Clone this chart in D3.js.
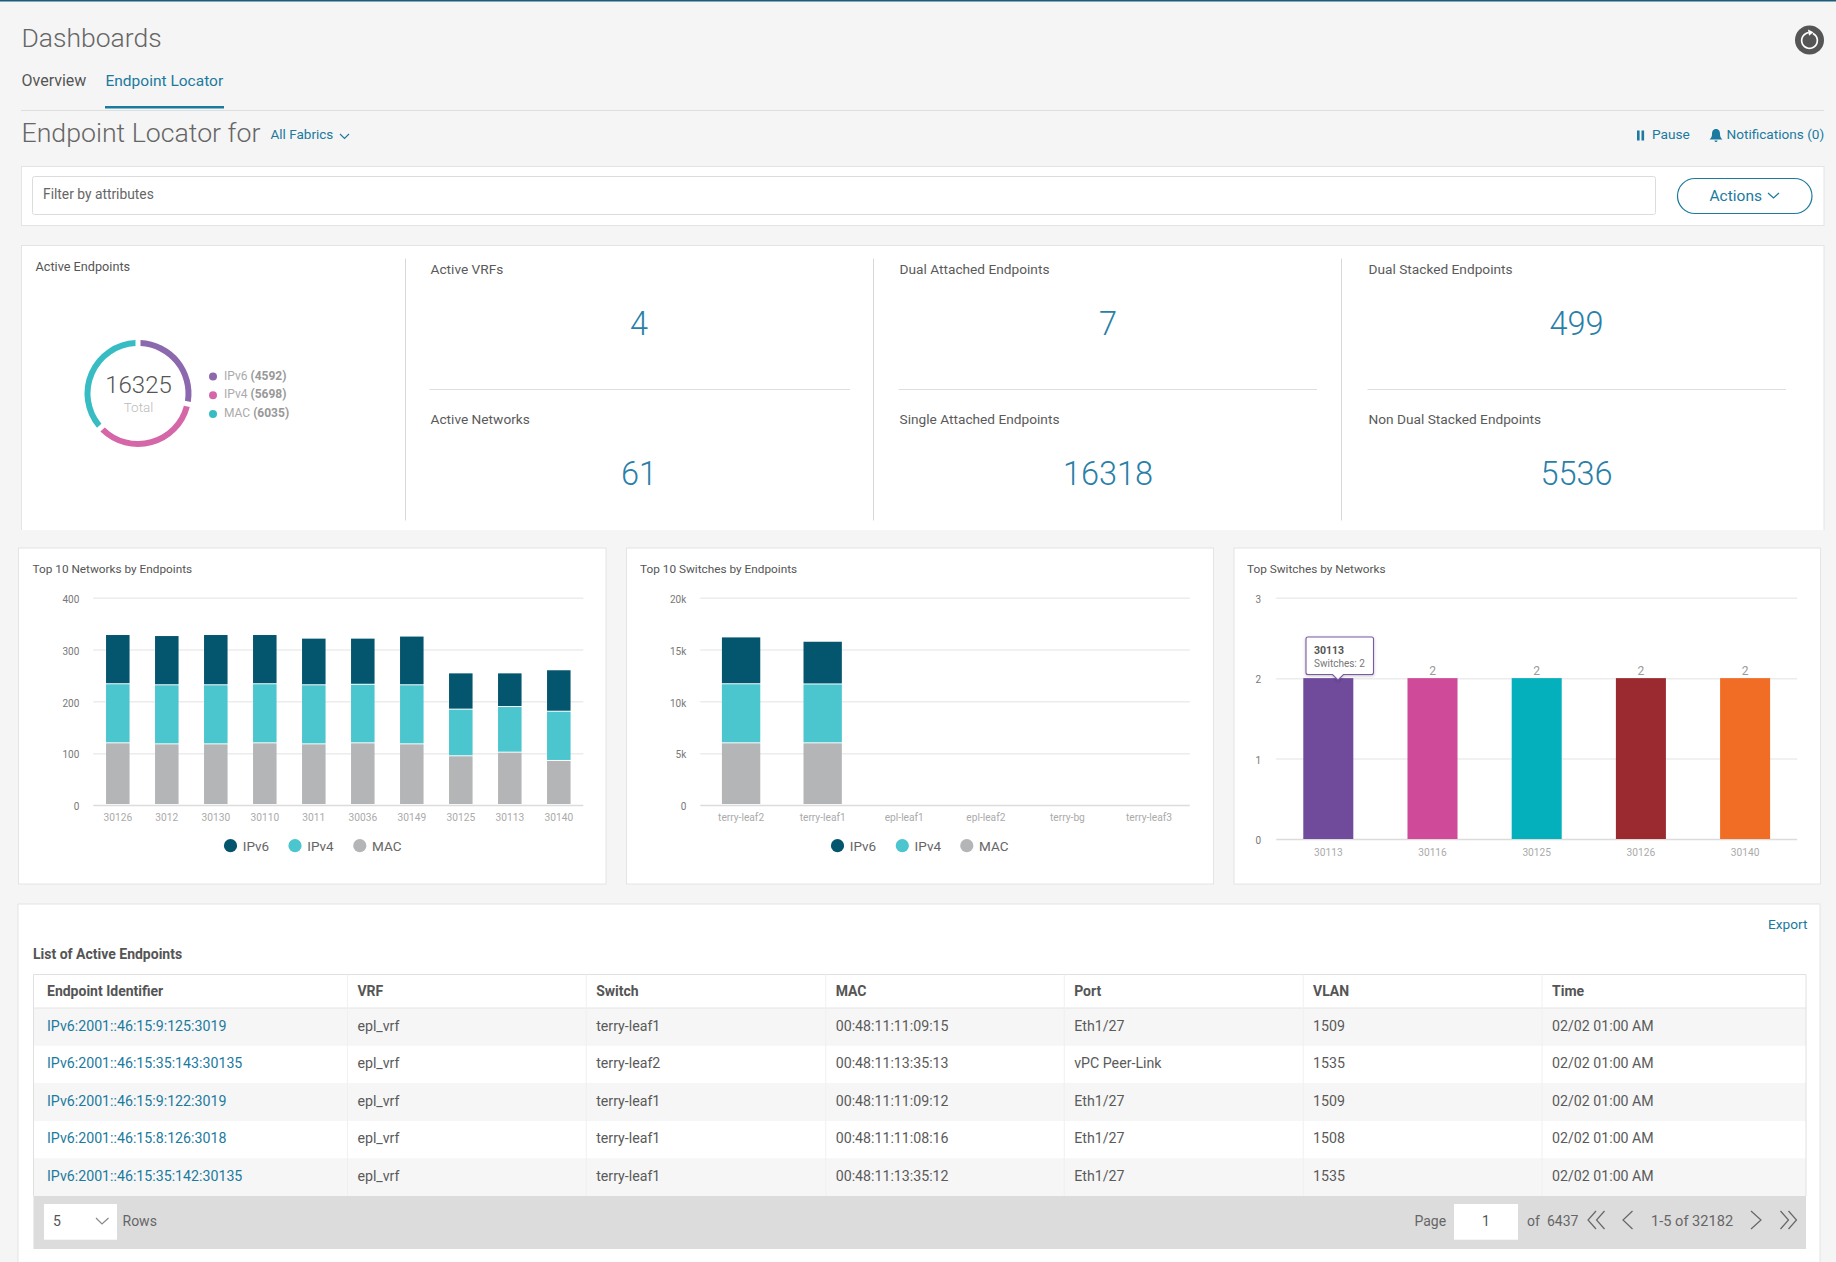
<!DOCTYPE html>
<html>
<head>
<meta charset="utf-8">
<title>Endpoint Locator</title>
<script src="https://cdn.jsdelivr.net/npm/d3@7"></script>
<style>
html, body { margin: 0; padding: 0; background: #f5f5f5; overflow: hidden; }
svg { display: block; font-family: Roboto, "Liberation Sans", sans-serif; }
.axis .domain { display: none; }
</style>
</head>
<body>
<svg id="page" width="1836" height="1262"></svg>
<script>
// donut
var donutLabels = ['IPv6', 'IPv4', 'MAC'];
var donutValues = [4592, 5698, 6035];
var donutColors = ['#8c69ae', '#d567a9', '#37bcc4'];

// stat tiles
var statLabels = ['Active VRFs', 'Active Networks', 'Dual Attached Endpoints', 'Single Attached Endpoints', 'Dual Stacked Endpoints', 'Non Dual Stacked Endpoints'];
var statValues = ['4', '61', '7', '16318', '499', '5536'];

// stacked bars
var stackKeys = ['MAC', 'IPv4', 'IPv6'];
var stackColors = { IPv6: '#04566e', IPv4: '#4bc5ce', MAC: '#b3b5b7' };

var networkNames = ['30126', '3012', '30130', '30110', '3011', '30036', '30149', '30125', '30113', '30140'];
var networkMac = [119, 117, 117, 119, 117, 119, 117, 94, 101, 85];
var networkIpv4 = [114, 114, 114, 114, 114, 113, 114, 90, 88, 95];
var networkIpv6 = [95, 95, 97, 95, 90, 89, 94, 70, 65, 80];
var networkTicks = [0, 100, 200, 300, 400];

var switchNames = ['terry-leaf2', 'terry-leaf1', 'epl-leaf1', 'epl-leaf2', 'terry-bg', 'terry-leaf3'];
var switchMac = [5950, 5950, 0, 0, 0, 0];
var switchIpv4 = [5700, 5680, 0, 0, 0, 0];
var switchIpv6 = [4520, 4120, 0, 0, 0, 0];
var switchTicks = [0, 5000, 10000, 15000, 20000];

// top switches by networks
var topNames = ['30113', '30116', '30125', '30126', '30140'];
var topValues = [2, 2, 2, 2, 2];
var topColors = ['#704b9c', '#d04a9a', '#03b0bb', '#9a2a30', '#f16c24'];
var topTicks = [0, 1, 2, 3];

// table
var tableHeaders = ['Endpoint Identifier', 'VRF', 'Switch', 'MAC', 'Port', 'VLAN', 'Time'];
var tableRows = [
	['IPv6:2001::46:15:9:125:3019', 'epl_vrf', 'terry-leaf1', '00:48:11:11:09:15', 'Eth1/27', '1509', '02/02 01:00 AM'],
	['IPv6:2001::46:15:35:143:30135', 'epl_vrf', 'terry-leaf2', '00:48:11:13:35:13', 'vPC Peer-Link', '1535', '02/02 01:00 AM'],
	['IPv6:2001::46:15:9:122:3019', 'epl_vrf', 'terry-leaf1', '00:48:11:11:09:12', 'Eth1/27', '1509', '02/02 01:00 AM'],
	['IPv6:2001::46:15:8:126:3018', 'epl_vrf', 'terry-leaf1', '00:48:11:11:08:16', 'Eth1/27', '1508', '02/02 01:00 AM'],
	['IPv6:2001::46:15:35:142:30135', 'epl_vrf', 'terry-leaf1', '00:48:11:13:35:12', 'Eth1/27', '1535', '02/02 01:00 AM']
];

var blue = '#1b7a9e';
var svg = d3.select('#page');

function label(x, y, str, size, color, weight, anchor){
	return svg.append('text')
	.attr('x', x).attr('y', y)
	.attr('font-size', size)
	.attr('fill', color)
	.attr('font-weight', weight || 400)
	.attr('text-anchor', anchor || 'start')
	.text(str);
}

function box(x, y, w, h, fill, stroke){
	return svg.append('rect')
	.attr('x', x).attr('y', y)
	.attr('width', w).attr('height', h)
	.attr('fill', fill)
	.attr('stroke', stroke || 'none');
}

function rule(x1, y1, x2, y2, color, width){
	return svg.append('line')
	.attr('x1', x1).attr('y1', y1)
	.attr('x2', x2).attr('y2', y2)
	.attr('stroke', color)
	.attr('stroke-width', width || 1);
}

function chevron(points, color, width){
	return svg.append('path')
	.attr('d', d3.line()(points))
	.attr('fill', 'none')
	.attr('stroke', color)
	.attr('stroke-width', width || 1.2);
}

function drawHeader(){
	box(0, 0, 1836, 1.5, '#1c5c78');
	label(21.5, 47, 'Dashboards', 26.5, '#666', 300);
	label(21.5, 86, 'Overview', 16, '#555');
	label(105.5, 86, 'Endpoint Locator', 15.5, blue);
	box(105, 106, 119, 2.5, blue);
	rule(21, 110.5, 1824, 110.5, '#dedede');
	label(21.5, 141.5, 'Endpoint Locator for', 26.7, '#666', 300);
	label(270.5, 139, 'All Fabrics', 13.5, blue);
	chevron([[340, 134], [344.5, 138.5], [349, 134]], blue);

	// pause and notifications
	box(1637, 130.5, 2.6, 10, blue);
	box(1641.5, 130.5, 2.6, 10, blue);
	label(1652, 139, 'Pause', 13.7, blue);
	svg.append('path')
	.attr('d', 'M1716 129c-3 0-4 2.500-4 5c0 3-1 4-2.500 5.500h13c-1.500-1.500-2.500-2.500-2.500-5.500c0-2.500-1-5-4-5zM1714.500 140.500a1.500 1.500 0 0 0 3 0z')
	.attr('fill', blue);
	label(1726.5, 139, 'Notifications (0)', 13.6, blue);

	// refresh
	svg.append('circle').attr('cx', 1809.5).attr('cy', 40).attr('r', 14.5).attr('fill', '#555');
	svg.append('path')
	.attr('transform', 'translate(1809.5,40.500)')
	.attr('d', d3.arc().innerRadius(7).outerRadius(8.7).startAngle(0.45).endAngle(Math.PI * 2 - 0.1)())
	.attr('fill', '#fff');
	svg.append('path').attr('d', 'M1808 29.500l5.500 2.800l-4.500 3.500z').attr('fill', '#fff');

	// filter bar
	box(21.5, 166.5, 1802.5, 59, '#fff', '#e4e4e4');
	box(32.5, 176.5, 1623, 38, '#fff', '#dcdcdc').attr('rx', 2);
	label(43, 198.5, 'Filter by attributes', 13.8, '#666');
	box(1677.5, 178.5, 134.5, 35, '#fff', blue).attr('rx', 17.5).attr('stroke-width', 1.2);
	label(1709.5, 200.5, 'Actions', 15.5, blue);
	chevron([[1768, 193], [1773.5, 198], [1779, 193]], blue);
}

function drawStats(){
	box(21.5, 245.5, 1802.5, 285, '#fff', '#e4e4e4');
	box(0, 530, 1836, 6, '#f5f5f5');
	label(35.5, 271, 'Active Endpoints', 12.7, '#555');

	// donut
	var g = svg.append('g').attr('transform', 'translate(138,393.500)');
	var pie = d3.pie().sort(null).padAngle(0.07);
	var arc = d3.arc().innerRadius(47.5).outerRadius(53.5);
	g.selectAll('path')
	.data(pie(donutValues))
	.enter().append('path')
	.attr('d', arc)
	.attr('fill', function(d, i){ return donutColors[i]; });

	label(138.5, 392.5, d3.sum(donutValues), 24, '#555', 300, 'middle');
	label(138.5, 412, 'Total', 13.5, '#bbb', 300, 'middle');

	donutLabels.forEach(function(name, i){
		svg.append('circle')
		.attr('cx', 213).attr('cy', 376.5 + i * 18.8)
		.attr('r', 4)
		.attr('fill', donutColors[i]);
		var t = label(224, 379.5 + i * 18.8, name + ' ', 12, '#aaa');
		t.append('tspan').attr('font-weight', 700).attr('fill', '#999').text('(' + donutValues[i] + ')');
	});

	// tiles, three columns of two
	var colX = [430.5, 899.5, 1368.5];
	var colCenter = [639, 1108, 1576.5];
	var dividerX = [405.5, 873.5, 1341.5];
	var ruleEnd = [850, 1317, 1786];
	colX.forEach(function(x, c){
		rule(dividerX[c], 258.5, dividerX[c], 520.5, '#d9d9d9');
		rule(x - 1, 389.5, ruleEnd[c], 389.5, '#dedede');
		label(x, 273.5, statLabels[c * 2], 13.7, '#5a5a5a');
		label(colCenter[c], 334.5, statValues[c * 2], 32.5, '#2a7fa8', 300, 'middle');
		label(x, 423.5, statLabels[c * 2 + 1], 13.7, '#5a5a5a');
		label(colCenter[c], 484.5, statValues[c * 2 + 1], 32.5, '#2a7fa8', 300, 'middle');
	});
}

function drawFrame(px, pw, title, tx){
	box(px, 548, pw, 336, '#fff', '#e4e4e4');
	label(tx, 573, title, 11.8, '#555');
}

function yAxes(y, x0, x1, ticks, fmt, labelGap){
	// grid first, then the labels
	var grid = svg.append('g')
	.attr('class', 'axis')
	.attr('transform', 'translate(' + x0 + ',0)')
	.call(d3.axisLeft(y).tickValues(ticks).tickSize(x0 - x1).tickFormat(''));
	grid.selectAll('line').attr('stroke', '#ececec').attr('stroke-width', 1.5);
	grid.selectAll('.tick').filter(function(d){ return d === 0; }).select('line').attr('stroke', '#dcdcdc');

	var lab = svg.append('g')
	.attr('class', 'axis')
	.attr('transform', 'translate(' + (x0 - labelGap) + ',1.500)')
	.call(d3.axisLeft(y).tickValues(ticks).tickSize(0).tickPadding(0).tickFormat(fmt));
	lab.selectAll('text').attr('font-size', 10).attr('font-family', 'Roboto').attr('fill', '#777');
}

function xAxis(x, yPos, pad){
	var g = svg.append('g')
	.attr('class', 'axis')
	.attr('transform', 'translate(0,' + yPos + ')')
	.call(d3.axisBottom(x).tickSize(0).tickPadding(pad));
	g.selectAll('text').attr('font-size', 10.2).attr('font-family', 'Roboto').attr('fill', '#aaa');
}

function legend(xs){
	['IPv6', 'IPv4', 'MAC'].forEach(function(name, i){
		svg.append('circle')
		.attr('cx', xs[i]).attr('cy', 845.7)
		.attr('r', 6.6)
		.attr('fill', stackColors[name]);
		label(xs[i] + 12.3, 850.7, name, 13.5, '#666');
	});
}

function stackedChart(names, mac, ipv4, ipv6, ticks, maxY, x0, x1, fmt, legendXs, inner){
	var rows = names.map(function(name, i){
		return { name: name, MAC: mac[i], IPv4: ipv4[i], IPv6: ipv6[i] };
	});
	var y = d3.scaleLinear().domain([0, maxY]).range([805, 597.7]);
	var x = d3.scaleBand().domain(names).range([x0, x1]).paddingInner(inner).paddingOuter(inner / 2);

	yAxes(y, x0, x1, ticks, fmt, 14);
	xAxis(x, 805, 9);

	var layers = d3.stack().keys(stackKeys)(rows);
	svg.selectAll(null)
	.data(layers)
	.enter().append('g')
	.attr('fill', function(d){ return stackColors[d.key]; })
	.selectAll('rect')
	.data(function(d){ return d.filter(function(s){ return s[1] > s[0]; }); })
	.enter().append('rect')
	.attr('x', function(d){ return x(d.data.name); })
	.attr('width', x.bandwidth())
	.attr('y', function(d){ return y(d[1]); })
	.attr('height', function(d){ return y(d[0]) - y(d[1]) - 1; });

	legend(legendXs);
}

function drawCharts(){
	drawFrame(18.5, 587.5, 'Top 10 Networks by Endpoints', 32.5);
	stackedChart(networkNames, networkMac, networkIpv4, networkIpv6, networkTicks, 400, 93.3, 583.3,
		function(d){ return d; }, [230.5, 295, 359.8], 0.52);

	drawFrame(626.5, 587, 'Top 10 Switches by Endpoints', 640);
	stackedChart(switchNames, switchMac, switchIpv4, switchIpv6, switchTicks, 20000, 700.3, 1189.8,
		function(d){ return d === 0 ? '0' : (d / 1000) + 'k'; }, [837.5, 902.3, 966.8], 0.53);

	drawFrame(1234, 586.5, 'Top Switches by Networks', 1247);
	var y = d3.scaleLinear().domain([0, 3]).range([839, 597.7]);
	var x = d3.scaleBand().domain(topNames).range([1276.2, 1797.2]).paddingInner(0.52).paddingOuter(0.26);
	yAxes(y, 1276.2, 1797.2, topTicks, function(d){ return d; }, 15);
	xAxis(x, 839, 10);

	svg.selectAll(null)
	.data(topNames)
	.enter().append('rect')
	.attr('x', function(d){ return x(d); })
	.attr('width', x.bandwidth())
	.attr('y', function(d, i){ return y(topValues[i]); })
	.attr('height', function(d, i){ return y(0) - y(topValues[i]); })
	.attr('fill', function(d, i){ return topColors[i]; });

	topNames.forEach(function(name, i){
		if(i > 0)
			label(x(name) + x.bandwidth() / 2, y(topValues[i]) - 3.5, topValues[i], 12, '#999', 400, 'middle');
	});

	// tooltip stays over the first bar
	svg.append('defs').append('filter').attr('id', 'tipShadow')
	.append('feDropShadow')
	.attr('dx', 0).attr('dy', 1).attr('stdDeviation', 1.5)
	.attr('flood-color', '#000').attr('flood-opacity', 0.25);
	svg.append('path')
	.attr('d', 'M1306 639a2 2 0 0 1 2-2h63.500a2 2 0 0 1 2 2v33.500a2 2 0 0 1-2 2h-28l-5.500 5.500l-5.500-5.500h-24.500a2 2 0 0 1-2-2z')
	.attr('fill', '#fff')
	.attr('stroke', '#7a5aa6')
	.attr('stroke-width', 1.1)
	.attr('filter', 'url(#tipShadow)');
	label(1314, 654, topNames[0], 10.5, '#555', 700);
	label(1314, 666.5, 'Switches: ' + topValues[0], 10, '#777');
}

function drawTable(){
	box(18, 904, 1802, 370, '#fff', '#e4e4e4');
	label(33, 958.5, 'List of Active Endpoints', 14, '#555', 700);
	label(1768, 929, 'Export', 13.7, blue);

	var colX = [33.5, 347.4, 586.3, 825.7, 1064.3, 1303.2, 1542, 1806];
	var tx = [47, 357.4, 596.2, 835.7, 1074.2, 1313, 1552];
	var rowTop = [1008, 1045.7, 1083, 1121, 1158.3, 1196];
	var baselines = [1030.5, 1067.5, 1105.5, 1142.5, 1180.5];

	tableRows.forEach(function(row, r){
		if(r % 2 === 0)
			box(33.5, rowTop[r], 1772.5, rowTop[r + 1] - rowTop[r], '#f6f6f6');
		row.forEach(function(cell, c){
			label(tx[c], baselines[r], cell, 14.2, c === 0 ? blue : '#5a5a5a');
		});
	});
	tableHeaders.forEach(function(h, c){
		label(tx[c], 995.5, h, 14, '#555', 700);
	});
	rule(33.5, 974.5, 1806, 974.5, '#e0e0e0');
	rule(33.5, 1008, 1806, 1008, '#e4e4e4');
	colX.forEach(function(x, i){
		rule(x, 974.5, x, 1196, i === 0 || i === 7 ? '#e0e0e0' : '#f0f0f0');
	});

	// footer
	box(33.5, 1196, 1772.5, 53, '#dcdcdc');
	box(44, 1204, 73, 35.7, '#fff');
	label(53, 1226, '5', 14, '#555');
	chevron([[96, 1218], [102, 1224], [108.500, 1218]], '#888');
	label(122.5, 1225.5, 'Rows', 14, '#666');

	label(1414.5, 1225.5, 'Page', 14, '#666');
	box(1454, 1204, 64, 35.7, '#fff');
	label(1486, 1226, '1', 14, '#555', 400, 'middle');
	label(1527, 1225.5, 'of', 14, '#666');
	label(1547, 1225.5, '6437', 14, '#666');
	label(1651, 1225.5, '1-5 of 32182', 14.6, '#666');

	chevron([[1596, 1211], [1588, 1220], [1596, 1229]], '#666');
	chevron([[1604.5, 1211], [1596.5, 1220], [1604.5, 1229]], '#666');
	chevron([[1632.5, 1211], [1623, 1220], [1632.5, 1229]], '#666');
	chevron([[1751, 1211], [1761, 1220], [1751, 1229]], '#666');
	chevron([[1780.5, 1211], [1788.5, 1220], [1780.5, 1229]], '#666');
	chevron([[1788.5, 1211], [1796.5, 1220], [1788.5, 1229]], '#666');
}

drawHeader();
drawStats();
drawCharts();
drawTable();
</script>
</body>
</html>
